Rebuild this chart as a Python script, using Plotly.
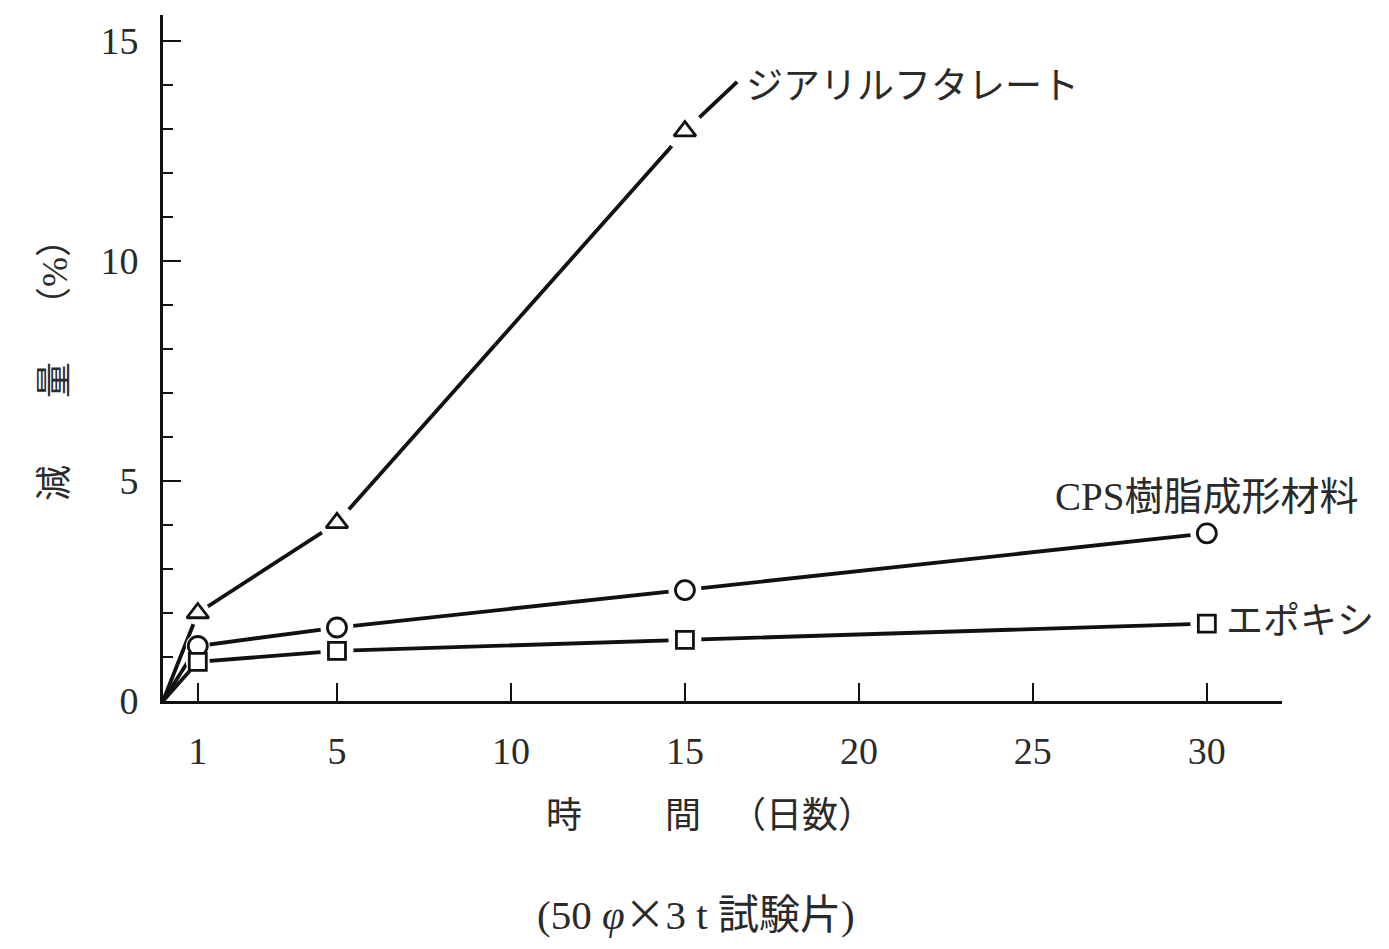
import plotly.graph_objects as go

# ---- data ----
days = [0, 1, 5, 15, 30]
dap_days = [0, 1, 5, 15]
dap_vals = [0, 2.0, 4.05, 12.95]
dap_ext_day = [15, 16.5]          # continuation of the DAP line toward its label
dap_ext_val = [12.95, 14.07]
cps_vals = [0, 1.25, 1.67, 2.52, 3.81]
epoxy_vals = [0, 0.89, 1.14, 1.39, 1.76]

x_ticks = [1, 5, 10, 15, 20, 25, 30]
y_ticks = [0, 5, 10, 15]

label_dap = "ジアリルフタレート"
label_cps = "CPS樹脂成形材料"
label_epoxy = "エポキシ"

# ---- layout geometry ----
W, H = 1389, 949
L, R, T, B = 163, 1282, 15, 701
PW, PH = R - L, B - T
XMAX = 32.16
YMAX = 15.59

def px(xp):
    return (xp - L) / PW

def py(yp):
    return (B - yp) / PH

FONT = "Liberation Serif, Noto Sans CJK JP, serif"
TXT = "#2a2a2a"
LINE = "#111111"

fig = go.Figure()

# lines
line_style = dict(color=LINE, width=3.8)
fig.add_trace(go.Scatter(x=dap_days, y=dap_vals, mode="lines", line=line_style,
                         showlegend=False, hoverinfo="skip"))
fig.add_trace(go.Scatter(x=dap_ext_day, y=dap_ext_val, mode="lines", line=line_style,
                         showlegend=False, hoverinfo="skip"))
fig.add_trace(go.Scatter(x=days, y=cps_vals, mode="lines", line=line_style,
                         showlegend=False, hoverinfo="skip"))
fig.add_trace(go.Scatter(x=days, y=epoxy_vals, mode="lines", line=line_style,
                         showlegend=False, hoverinfo="skip"))

# white masks to produce the gaps round the markers (smaller at day 1)
def mask(sizes):
    return dict(symbol="circle", size=sizes, color="white", opacity=1,
                line=dict(width=0))

fig.add_trace(go.Scatter(x=dap_days[1:], y=dap_vals[1:], mode="markers",
                         marker=mask([24, 36, 40]), showlegend=False, hoverinfo="skip"))
fig.add_trace(go.Scatter(x=days[1:], y=cps_vals[1:], mode="markers",
                         marker=mask([24, 33, 33, 33]), showlegend=False, hoverinfo="skip"))
fig.add_trace(go.Scatter(x=days[1:], y=epoxy_vals[1:], mode="markers",
                         marker=mask([24, 33, 33, 33]), showlegend=False, hoverinfo="skip"))

# markers
fig.add_trace(go.Scatter(x=dap_days[1:], y=dap_vals[1:], mode="markers", name=label_dap,
                         marker=dict(symbol="triangle-up", size=19, color="white", opacity=1,
                                     line=dict(color=LINE, width=2.8)), showlegend=False))
fig.add_trace(go.Scatter(x=days[1:], y=cps_vals[1:], mode="markers", name=label_cps,
                         marker=dict(symbol="circle", size=19, color="white", opacity=1,
                                     line=dict(color=LINE, width=2.8)), showlegend=False))
fig.add_trace(go.Scatter(x=days[1:], y=epoxy_vals[1:], mode="markers", name=label_epoxy,
                         marker=dict(symbol="square", size=17, color="white", opacity=1,
                                     line=dict(color=LINE, width=2.8)), showlegend=False))

CJK = '<span style="font-family:Noto Sans CJK JP">'
annotations = [
    dict(text=label_dap, x=px(744), y=py(86), xanchor="left", yanchor="middle",
         font=dict(size=37)),
    dict(text=label_cps, x=px(1053), y=py(497), xanchor="left", yanchor="middle",
         font=dict(size=39)),
    dict(text=label_epoxy, x=px(1224), y=py(621), xanchor="left", yanchor="middle",
         font=dict(size=37)),
    # x-axis title pieces
    dict(text="時", x=px(564), y=py(816), xanchor="center", yanchor="middle",
         font=dict(size=36)),
    dict(text="間", x=px(683), y=py(816), xanchor="center", yanchor="middle",
         font=dict(size=36)),
    dict(text="（日数）", x=px(802), y=py(816), xanchor="center", yanchor="middle",
         font=dict(size=36)),
    # y-axis title pieces (rotated)
    dict(text="減", x=px(55), y=py(483), xanchor="center", yanchor="middle",
         textangle=-90, font=dict(size=36)),
    dict(text="量", x=px(55), y=py(380), xanchor="center", yanchor="middle",
         textangle=-90, font=dict(size=36)),
    dict(text="（%）", x=px(55), y=py(272), xanchor="center", yanchor="middle",
         textangle=-90, font=dict(size=36)),
    # caption
    dict(text="(50 <i>φ</i>" + CJK + "×</span>3 t 試験片)", x=px(696), y=py(911),
         xanchor="center", yanchor="middle", font=dict(size=41)),
]
for a in annotations:
    a.update(xref="paper", yref="paper", showarrow=False)
    a["font"].update(family=FONT, color=TXT)

axis_common = dict(showline=True, linecolor=LINE, linewidth=2.8, showgrid=False,
                   zeroline=False, ticks="inside", tickcolor=LINE, tickwidth=2,
                   tickfont=dict(family=FONT, size=38, color=TXT))

fig.update_layout(
    width=W, height=H,
    margin=dict(l=L, r=W - R, t=T, b=H - B, pad=0),
    paper_bgcolor="white", plot_bgcolor="white",
    xaxis=dict(range=[0, XMAX], tickvals=x_ticks, ticktext=[str(v) for v in x_ticks],
               ticklen=18, ticklabelstandoff=14, **axis_common),
    yaxis=dict(range=[0, YMAX], tickvals=y_ticks, ticktext=[str(v) for v in y_ticks],
               ticklen=18, ticklabelstandoff=14,
               minor=dict(dtick=1, tick0=0, ticks="inside", ticklen=10, tickwidth=2,
                          tickcolor=LINE, showgrid=False),
               **axis_common),
    annotations=annotations,
    showlegend=False,
)

fig.write_html("out.html")
